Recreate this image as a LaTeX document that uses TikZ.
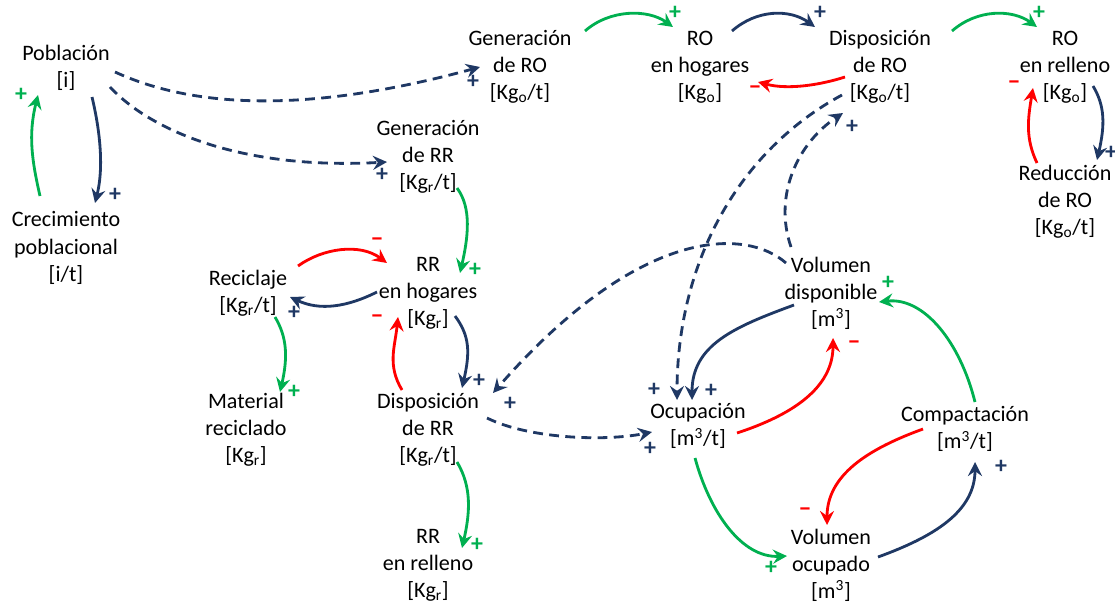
\documentclass[tikz,border=0pt]{standalone}
\usepackage{fontspec}
\setmainfont{Carlito}
\usepackage{tikz}
\usetikzlibrary{arrows.meta, calc}
\definecolor{cNavy}{RGB}{31,56,100}
\definecolor{cGreen}{RGB}{0,176,80}
\definecolor{cRed}{RGB}{255,0,0}
\newcommand{\varfont}{\fontsize{15.7}{19.3}\selectfont}
\newcommand{\kgo}{Kg\textsubscript{o}}
\newcommand{\kgr}{Kg\textsubscript{r}}
\newcommand{\mcub}{m\textsuperscript{3}}
\tikzset{
	var/.style ={align=center, inner sep=0pt, text=black},
	% causal links
	link/.style={-{Stealth[length=10pt, width=10pt, inset=3.5pt]}, line width=2pt},
	lnkB/.style={link, cNavy},
	lnkG/.style={link, cGreen},
	lnkR/.style={link, cRed},
	lnkD/.style={link, cNavy, dash pattern=on 7pt off 4.5pt},
	% polarity marks
	sgn/.style ={inner sep=0pt, font=\fontsize{17}{19}\selectfont\bfseries},
	sgnB/.style={sgn, text=cNavy},
	sgnG/.style={sgn, text=cGreen},
	sgnR/.style={sgn, text=cRed},
}

\begin{document}
\begin{tikzpicture}[font=\varfont, x=0.025cm, y=-0.025cm]
	\useasboundingbox (0,0) rectangle (1115,605);
	% variables
	\node[var] (pob)     at (66,68)   {Población\\{[i]}};
	\node[var] (crec)    at (66,248)  {Crecimiento\\poblacional\\{[i/t]}};
	\node[var] (genRO)   at (520,67)  {Generación\\de RO\\{[\kgo/t]}};
	\node[var] (roHog)   at (700,67)  {RO\\en hogares\\{[\kgo]}};
	\node[var] (dispRO)  at (880,67)  {Disposición\\de RO\\{[\kgo/t]}};
	\node[var] (roRel)   at (1065,67) {RO\\en relleno\\{[\kgo]}};
	\node[var] (redRO)   at (1065,202){Reducción\\de RO\\{[\kgo/t]}};
	\node[var] (genRR)   at (428,157) {Generación\\de RR\\{[\kgr/t]}};
	\node[var] (recic)   at (248,293) {Reciclaje\\{[\kgr/t]}};
	\node[var] (rrHog)   at (428,293) {RR\\en hogares\\{[\kgr]}};
	\node[var] (matRec)  at (246,430) {Material\\reciclado\\{[\kgr]}};
	\node[var] (dispRR)  at (428,430) {Disposición\\de RR\\{[\kgr/t]}};
	\node[var] (rrRel)   at (428,565) {RR\\en relleno\\{[\kgr]}};
	\node[var] (volDisp) at (831,293) {Volumen\\disponible\\{[\mcub]}};
	\node[var] (ocup)    at (698,426) {Ocupación\\{[\mcub/t]}};
	\node[var] (compac)  at (965,429) {Compactación\\{[\mcub/t]}};
	\node[var] (volOcup) at (831,565) {Volumen\\ocupado\\{[\mcub]}};

	% population loop
	\draw[lnkG] ($(crec)+(-26,-52)$) .. controls +(-8,-35) and +(-10,40) .. ($(pob)+(-28,27)$);
	\draw[lnkB] ($(pob)+(26,29)$) .. controls +(6,25) and +(10,-40) .. ($(crec)+(29,-45)$);
	\draw[lnkD] ($(pob)+(49,4)$) .. controls +(100,46) and +(-132,36) .. ($(genRO)+(-40,0)$);
	\draw[lnkD] ($(pob)+(44,19)$) .. controls +(40,43) and +(-147,8) .. ($(genRR)+(-41,5)$);

	% organic waste chain
	\draw[lnkG] ($(genRO)+(65,-36)$) .. controls +(25,-22) and +(-25,-18) .. ($(roHog)+(-27,-40)$);
	\draw[lnkB] ($(roHog)+(32,-36)$) .. controls +(25,-22) and +(-25,-18) .. ($(dispRO)+(-65,-40)$);
	\draw[lnkR] ($(dispRO)+(-35,10)$) .. controls +(-25,8) and +(30,8) .. ($(roHog)+(58,15)$);
	\draw[lnkG] ($(dispRO)+(72,-36)$) .. controls +(25,-22) and +(-25,-18) .. ($(roRel)+(-28,-40)$);
	\draw[lnkB] ($(roRel)+(28,19)$) .. controls +(12,20) and +(8,-35) .. ($(redRO)+(32,-42)$);
	\draw[lnkR] ($(redRO)+(-28,-39)$) .. controls +(-12,-25) and +(-5,30) .. ($(roRel)+(-32,21)$);

	% recyclable waste chain
	\draw[lnkG] ($(genRR)+(29,31)$) .. controls +(15,20) and +(8,-35) .. ($(rrHog)+(32,-20)$);
	\draw[lnkR] ($(recic)+(50,-27)$) .. controls +(25,-18) and +(-27,-20) .. ($(rrHog)+(-41,-30)$);
	\draw[lnkB] ($(rrHog)+(-51,-1)$) .. controls +(-30,15) and +(30,14) .. ($(recic)+(42,4)$);
	\draw[lnkG] ($(recic)+(27,24)$) .. controls +(12,20) and +(8,-35) .. ($(matRec)+(34,-38)$);
	\draw[lnkB] ($(rrHog)+(27,23)$) .. controls +(15,20) and +(8,-35) .. ($(dispRR)+(34,-42)$);
	\draw[lnkR] ($(dispRR)+(-26,-40)$) .. controls +(-15,-25) and +(-3,30) .. ($(rrHog)+(-30,24)$);
	\draw[lnkG] ($(dispRR)+(29,32)$) .. controls +(15,25) and +(8,-35) .. ($(rrRel)+(34,-17)$);

	% landfill volume
	\draw[lnkD] ($(dispRR)+(59,-12)$) .. controls +(40,20) and +(-50,10) .. ($(ocup)+(-46,6)$);
	\draw[lnkD] ($(dispRO)+(-38,28)$) .. controls +(-102,55) and +(0,-140) .. ($(ocup)+(-21,-26)$);
	\draw[lnkD] ($(volDisp)+(-40,-46)$) .. controls +(-18,-52) and +(-45,30) .. ($(dispRO)+(-37,46)$);
	\draw[lnkD] ($(volDisp)+(-45,-30)$) .. controls +(-40,-35) and +(147,-168) .. ($(dispRR)+(65,-37)$);
	\draw[lnkB] ($(volDisp)+(-37,12)$) .. controls +(-60,22) and +(0,-55) .. ($(ocup)+(-6,-26)$);
	\draw[lnkR] ($(ocup)+(39,7)$) .. controls +(55,-18) and +(0,50) .. ($(volDisp)+(2,45)$);
	\draw[lnkG] ($(ocup)+(-3,32)$) .. controls +(15,55) and +(-45,2) .. ($(volOcup)+(-44,-9)$);
	\draw[lnkB] ($(volOcup)+(47,-8)$) .. controls +(55,-20) and +(0,50) .. ($(compac)+(10,33)$);
	\draw[lnkR] ($(compac)+(-42,0)$) .. controls +(-55,20) and +(0,-50) .. ($(volOcup)+(-4,-40)$);
	\draw[lnkG] ($(compac)+(10,-27)$) .. controls +(-15,-60) and +(45,-5) .. ($(volDisp)+(48,9)$);

	% polarities
	\node[sgnG] (p1)  at (21,95)   {+};
	\node[sgnB] (p2)  at (115,195) {+};
	\node[sgnB] (p3)  at (473,82)  {+};
	\node[sgnB] (p4)  at (382,175) {+};
	\node[sgnG] (p5)  at (675,13)  {+};
	\node[sgnB] (p6)  at (820,13)  {+};
	\node[sgnR] (p7)  at (755,90)  {−};
	\node[sgnG] (p8)  at (1039,13) {+};
	\node[sgnB] (p9)  at (1111,153){+};
	\node[sgnR] (p10) at (1014,85) {−};
	\node[sgnG] (p11) at (475,270) {+};
	\node[sgnR] (p12) at (377,242) {−};
	\node[sgnB] (p13) at (294,313) {+};
	\node[sgnG] (p14) at (294,392) {+};
	\node[sgnB] (p15) at (479,381) {+};
	\node[sgnR] (p16) at (377,319) {−};
	\node[sgnG] (p17) at (477,545) {+};
	\node[sgnB] (p18) at (650,449) {+};
	\node[sgnB] (p19) at (654,390) {+};
	\node[sgnB] (p20) at (852,127) {+};
	\node[sgnB] (p21) at (510,404) {+};
	\node[sgnB] (p22) at (711,391) {+};
	\node[sgnR] (p23) at (854,345) {−};
	\node[sgnG] (p24) at (771,568) {+};
	\node[sgnB] (p25) at (1001,467){+};
	\node[sgnR] (p26) at (805,512) {−};
	\node[sgnG] (p27) at (888,283) {+};
\end{tikzpicture}
\end{document}
